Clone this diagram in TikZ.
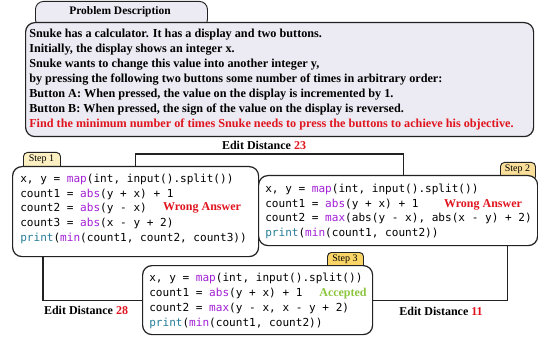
\documentclass[tikz,border=0pt]{standalone}
\usepackage{fontspec}
\setmainfont{Liberation Serif}
\setmonofont{DejaVu Sans Mono}
\usepackage{tikz}

\definecolor{descfill}{HTML}{ECEAF2}
\definecolor{tabA}{HTML}{FCEFC2}
\definecolor{tabB}{HTML}{F8DE98}
\definecolor{tabC}{HTML}{F9D466}
\definecolor{kwpurple}{HTML}{A31FD6}
\definecolor{kwblue}{HTML}{267F99}
\definecolor{wrongred}{HTML}{E0141E}
\definecolor{okgreen}{HTML}{8CC63F}
\definecolor{edge}{HTML}{222222}

\newcommand{\fn}[1]{\textcolor{kwpurple}{#1}}
\newcommand{\pr}[1]{\textcolor{kwblue}{#1}}

\begin{document}
\begin{tikzpicture}[x=0.75pt,y=-0.75pt,
  codebox/.style={draw=edge,line width=0.9pt,fill=white,rounded corners=7pt,anchor=north west,inner sep=0pt},
  steptab/.style={draw=edge,line width=0.7pt,rounded corners=3pt,anchor=north west,inner sep=0pt,font=\fontsize{7.5}{8}\selectfont},
  code/.style={anchor=north west,inner sep=0pt,align=left,font=\fontsize{8.3}{11.1}\selectfont\ttfamily},
  verdict/.style={font=\fontsize{9}{10}\selectfont\bfseries},
  dist/.style={font=\fontsize{9}{10}\selectfont\bfseries},
  link/.style={draw=edge,line width=0.8pt}]
\useasboundingbox (0,0) rectangle (538,338);

% problem description
\node[steptab,fill=descfill,rounded corners=6pt,minimum width=172*0.75pt,minimum height=26*0.75pt] (ptab) at (35,1) {};
\node[font=\fontsize{8.6}{9}\selectfont\bfseries] at (120,12) {Problem Description};
\node[codebox,fill=descfill,minimum width=508*0.75pt,minimum height=114*0.75pt] (desc) at (25,22) {};
\node[anchor=north west,inner sep=0pt,align=left,font=\fontsize{9.15}{11.2}\selectfont\bfseries] (dtext) at (29,29)
{Snuke has a calculator. It has a display and two buttons.\\
Initially, the display shows an integer x.\\
Snuke wants to change this value into another integer y,\\
by pressing the following two buttons some number of times in arbitrary order:\\
Button A: When pressed, the value on the display is incremented by 1.\\
Button B: When pressed, the sign of the value on the display is reversed.\\
\textcolor{wrongred}{Find the minimum number of times Snuke needs to press the buttons to achieve his objective.}};

% step 1
\node[steptab,fill=tabA,minimum width=37*0.75pt,minimum height=18*0.75pt] (t1) at (23,152) {};
\node at (41.5,159.5) [font=\fontsize{7.5}{8}\selectfont] {Step 1};
\node[codebox,minimum width=246*0.75pt,minimum height=90*0.75pt] (s1) at (12,166) {};
\node[code] (c1) at (20,173.5)
{x, y = \fn{map}(int, input().split())\\
count1 = \fn{abs}(y + x) + 1\\
count2 = \fn{abs}(y - x)\\
count3 = \fn{abs}(x - y + 2)\\
\pr{print}(\fn{min}(count1, count2, count3))};
\node[verdict,text=wrongred] (w1) at (202,208) {Wrong Answer};

% step 2
\node[steptab,fill=tabB,minimum width=35*0.75pt,minimum height=18*0.75pt] (t2) at (500,162) {};
\node at (517.5,169) [font=\fontsize{7.5}{8}\selectfont] {Step 2};
\node[codebox,minimum width=279*0.75pt,minimum height=70*0.75pt] (s2) at (258,175) {};
\node[code] (c2) at (265,183.5)
{x, y = \fn{map}(int, input().split())\\
count1 = \fn{abs}(y + x) + 1\\
count2 = \fn{max}(abs(y - x), abs(x - y) + 2)\\
\pr{print}(\fn{min}(count1, count2))};
\node[verdict,text=wrongred] (w2) at (483,205) {Wrong Answer};

% step 3
\node[steptab,fill=tabC,minimum width=36*0.75pt,minimum height=18*0.75pt] (t3) at (327,252) {};
\node at (345,259) [font=\fontsize{7.5}{8}\selectfont] {Step 3};
\node[codebox,minimum width=230*0.75pt,minimum height=69*0.75pt] (s3) at (142,265) {};
\node[code] (c3) at (149,273)
{x, y = \fn{map}(int, input().split())\\
count1 = \fn{abs}(y + x) + 1\\
count2 = \fn{max}(y - x, x - y + 2)\\
\pr{print}(\fn{min}(count1, count2))};
\node[verdict,text=okgreen] (ok) at (343,294) {Accepted};

% edit distances
\draw[link] (s1.north) -- ++(0,-12) coordinate (k1) -| ([xshift=5*0.75pt]s2.north);
\draw[link] ([xshift=31*0.75pt]s1.south west) |- (s3.west);
\draw[link] ([xshift=-31*0.75pt]s2.south east) |- (s3.east);
\node[dist] (e23) at (264,145) {Edit Distance \textcolor{wrongred}{23}};
\node[dist] (e28) at (86,310) {Edit Distance \textcolor{wrongred}{28}};
\node[dist] (e11) at (441,311) {Edit Distance \textcolor{wrongred}{11}};
\end{tikzpicture}
\end{document}
